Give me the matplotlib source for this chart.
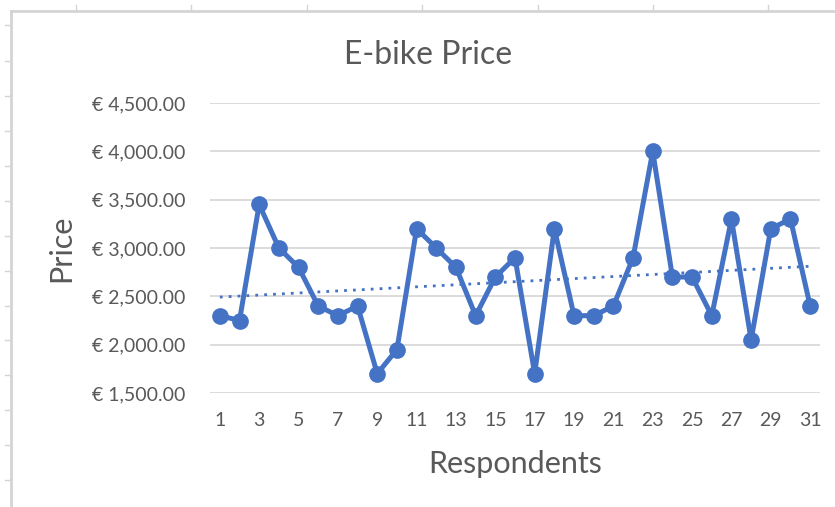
import matplotlib.pyplot as plt
import numpy as np
from matplotlib.lines import Line2D
from matplotlib.ticker import FuncFormatter

plt.rcParams["font.family"] = ["Lato", "DejaVu Sans"]

# data
respondents = list(range(1, 32))
prices = [2300, 2250, 3450, 3000, 2800, 2400, 2300, 2400, 1700, 1950,
          3200, 3000, 2800, 2300, 2700, 2900, 1700, 3200, 2300, 2300,
          2400, 2900, 4000, 2700, 2700, 2300, 3300, 2050, 3200, 3300, 2400]
y_ticks = [1500, 2000, 2500, 3000, 3500, 4000, 4500]
x_ticks = list(range(1, 32, 2))

BLUE = "#4472C4"
GREY = "#595959"
W, H = 835, 507

fig = plt.figure(figsize=(W / 100, H / 100), dpi=100)
ax = fig.add_axes([210 / W, 1 - 393 / H, 610 / W, 290 / H])

x = np.array(respondents)
y = np.array(prices)
ax.plot(x, y, color=BLUE, lw=3.6, marker="o", ms=11, solid_joinstyle="round", zorder=3)

# linear trendline
k, b = np.polyfit(x, y, 1)
ax.plot(x, k * x + b, color=BLUE, lw=2, ls=(0, (1, 2.2)), zorder=2)

ax.set_xlim(0.5, 31.5)
ax.set_ylim(1500, 4500)
ax.set_yticks(y_ticks)
ax.set_xticks(x_ticks)
ax.yaxis.set_major_formatter(FuncFormatter(lambda v, p: f"€ {v:,.2f}"))
ax.grid(axis="y", color="#d9d9d9", lw=1.3)
ax.set_axisbelow(True)
for s in ax.spines.values():
    s.set_visible(False)
ax.tick_params(length=0, labelsize=14, labelcolor=GREY)
ax.tick_params(axis="y", pad=18)
ax.tick_params(axis="x", pad=14)

ax.set_title("E-bike Price", fontsize=23, color=GREY, pad=28, x=(428 - 210) / 610)
ax.set_xlabel("Respondents", fontsize=22, color=GREY, labelpad=15)
ax.set_ylabel("Price", fontsize=22, color=GREY, labelpad=12)

# spreadsheet borders behind the chart
def px_line(x0, y0, x1, y1, lw=1.5):
    fig.add_artist(Line2D([x0 / W, x1 / W], [1 - y0 / H, 1 - y1 / H],
                          color="#d4d4d4", lw=lw, transform=fig.transFigure))

px_line(11, 11, W, 11, 2)
px_line(11, 11, 11, H, 2)
for cx in [76, 191, 307, 422, 538, 653, 768]:
    px_line(cx, 5, cx, 11, 1)
for ry in [25, 61, 96, 131, 166, 201, 236, 271, 306, 340, 375, 410, 445, 480]:
    px_line(5, ry, 11, ry, 1)

fig.savefig("out.png", dpi=100)
